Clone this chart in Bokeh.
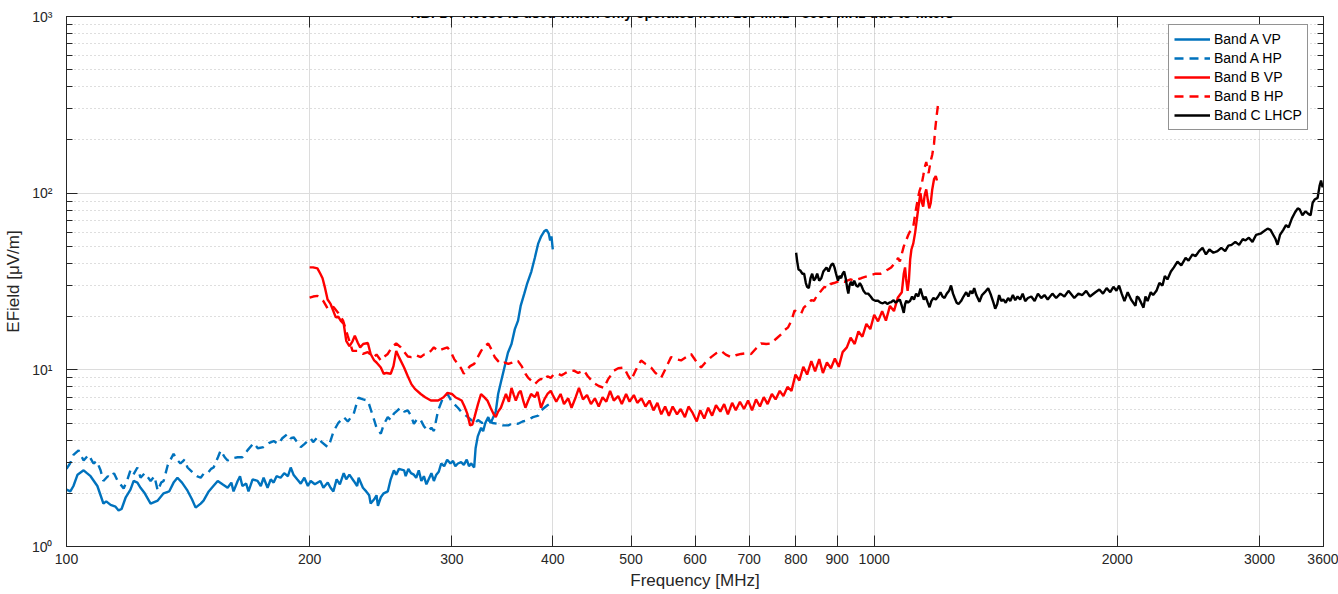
from bokeh.plotting import figure
from bokeh.models import (FixedTicker, LogAxis, BasicTickFormatter, Label, Range1d,
                          CustomJSTickFormatter)
from bokeh.embed import file_html
from bokeh.resources import INLINE

# ---------------- data ----------------
x_ticks = [100, 200, 300, 400, 500, 600, 700, 800, 900, 1000, 2000, 3000, 3600]
y_ticks = [1, 10, 100, 1000]
y_minor = [2, 3, 4, 5, 6, 7, 8, 9, 20, 30, 40, 50, 60, 70, 80, 90,
           200, 300, 400, 500, 600, 700, 800, 900]
y_labels = {1: "10⁰", 10: "10¹", 100: "10²", 1000: "10³"}

title_text = "NB: DF-A0086 is used which only operates from 100 MHz - 3600 MHz due to filters"

a_vp_f = [100, 101.1, 102, 103.2, 105, 106, 107.1, 109.2, 110.2, 111.1,
          112, 113.4, 115, 116, 117, 118.4, 120, 121.1, 122.4, 123.5,
          125, 127.1, 129.7, 131.9, 134, 135.7, 137.2, 139, 141.2, 143,
          144.5, 146.6, 147.8, 150, 152, 153.9, 156, 158.3, 160, 161,
          162.9, 164, 165.1, 166.9, 168, 170, 172.4, 174, 175.4, 177.4,
          179, 180.5, 182, 184.1, 186, 188, 189.5, 191, 193, 195,
          197, 199, 200.6, 203, 206.2, 208, 210.6, 212.3, 214, 216,
          218, 220.4, 222, 224, 226.8, 229, 230, 232.8, 235, 237,
          238, 240.4, 242, 243, 245, 247, 249.9, 252, 254.3, 256,
          258, 261.8, 263, 265, 267, 269.2, 271, 273, 275, 277,
          279, 280.2, 283, 285, 287, 289, 291, 293.5, 296, 298.8,
          301, 303, 305.2, 308, 310.4, 313, 315, 317, 319.7, 321,
          323, 326.1, 328, 330, 332.8, 335, 337, 340, 342.3, 345,
          348.5, 352, 355.6, 359, 362.3, 365, 368.8, 372, 376.3, 380,
          383.8, 387, 390.5, 393, 395.5, 397, 398.5, 400]
a_vp_v = [2.1, 2.05, 2.2, 2.55, 2.7, 2.6, 2.5, 2.2, 1.95, 1.75,
          1.8, 1.72, 1.68, 1.6, 1.63, 1.9, 2.1, 2.35, 2.3, 2.15,
          2.0, 1.75, 1.82, 2.0, 2.05, 2.3, 2.45, 2.3, 2.07, 1.85,
          1.66, 1.75, 1.82, 2.05, 2.2, 2.35, 2.25, 2.15, 2.3, 2.05,
          2.35, 2.5, 2.2, 2.27, 2.05, 2.4, 2.35, 2.2, 2.45, 2.15,
          2.4, 2.3, 2.5, 2.45, 2.6, 2.5, 2.8, 2.55, 2.4, 2.27,
          2.45, 2.2, 2.35, 2.25, 2.35, 2.15, 2.3, 2.15, 2.05, 2.4,
          2.25, 2.6, 2.4, 2.55, 2.35, 2.2, 2.45, 2.15, 2.05, 1.95,
          1.75, 1.85, 1.95, 1.7, 1.9, 2.0, 2.05, 2.4, 2.7, 2.55,
          2.75, 2.7, 2.5, 2.75, 2.6, 2.55, 2.45, 2.7, 2.35, 2.5,
          2.25, 2.35, 2.6, 2.35, 2.55, 2.65, 2.95, 2.85, 3.1, 2.95,
          3.05, 2.85, 2.95, 3.0, 2.9, 3.1, 2.85, 2.95, 2.8, 3.6,
          4.2, 4.7, 4.5, 5.0, 5.4, 5.0, 5.3, 5.8, 7.3, 8.5,
          10.3, 12.5, 14, 17, 19, 23, 27, 31, 36, 43,
          52, 57, 61, 62, 59, 54, 57, 48]

a_hp_f = [100, 101, 102, 103.5, 104.5, 105, 106.5, 108, 109, 110.2,
          111.1, 112.5, 113.4, 114.5, 115.7, 117.7, 119, 120, 121, 122.4,
          123.5, 125, 127.1, 128.5, 129.7, 131, 131.9, 133.5, 135.7, 137,
          138.4, 140, 141.2, 143.6, 145, 146.6, 148, 149.6, 151, 152.1,
          154, 155.2, 157, 158.3, 160, 162.9, 165.1, 167.5, 170.5, 172.5,
          175.4, 178, 180.5, 183, 185, 187.9, 189.5, 191.1, 193, 195,
          197, 200.6, 202, 204.5, 207, 210.6, 212, 214.2, 217, 220.4,
          223, 226.8, 229.8, 233, 236.1, 238, 240.4, 242, 245, 247,
          249.9, 252, 254.3, 257, 259.4, 262, 264.6, 267, 269.2, 272,
          274.5, 277, 280.2, 283, 285, 288.5, 292, 296.3, 300, 305.2,
          308, 310.4, 314, 317, 320, 323.2, 327, 332.8, 337, 342.3,
          347, 352.4, 357, 362.3, 367, 373, 378, 383.8, 387, 390.5,
          394, 397.4, 400]
a_hp_v = [2.75, 2.95, 3.3, 3.5, 3.2, 3.07, 3.3, 2.95, 3.05, 2.7,
          2.35, 2.5, 2.45, 2.6, 2.35, 2.13, 2.4, 2.7, 2.55, 2.8,
          2.45, 2.6, 2.35, 2.5, 2.07, 2.3, 2.35, 2.9, 3.35, 3.1,
          2.95, 3.1, 2.8, 2.6, 2.5, 2.45, 2.6, 2.6, 2.75, 2.8,
          3.2, 3.5, 3.2, 3.07, 3.15, 3.2, 3.2, 3.5, 3.85, 3.6,
          3.65, 3.85, 3.95, 3.8, 4.1, 4.35, 4.1, 4.15, 3.9, 3.65,
          3.8, 4.1, 3.9, 4.15, 3.9, 3.65, 3.9, 4.5, 5.0, 5.4,
          5.1, 5.65, 6.95, 6.8, 6.7, 6.0, 5.2, 4.7, 4.35, 4.9,
          5.4, 5.2, 5.65, 5.9, 6.1, 5.8, 5.9, 5.5, 4.95, 5.3,
          5.2, 4.8, 4.5, 4.7, 4.5, 5.9, 6.8, 7.3, 6.6, 6.1,
          5.8, 5.65, 5.4, 5.2, 4.95, 5.2, 5.0, 5.2, 5.0, 4.95,
          4.85, 4.85, 5.0, 4.95, 5.1, 5.2, 5.4, 5.5, 5.9, 6.1,
          6.3, 6.45, 6.6]

b_vp_f = [200, 202, 204.5, 206.2, 207.5, 209, 210.5, 212.3, 214, 215.5,
          217, 218.5, 220.4, 222, 224, 226, 227.5, 229.5, 231, 233,
          236.1, 238, 240.4, 242, 245, 247, 249, 252, 254, 256,
          258, 261.8, 264.6, 267.3, 270, 274.5, 278, 282.6, 288.5, 293,
          296.3, 300, 303, 308.5, 311, 313.5, 316, 318, 320, 323.2,
          326, 329, 332, 335, 338, 340, 342.3, 345, 348, 350,
          353, 355.6, 358, 360, 363, 365, 368, 370, 373, 376,
          380, 383, 386.8, 390.5, 394, 397.7,
          400, 404, 409, 413, 418, 422, 427, 431, 436, 441,
          446, 451, 456, 461, 466, 471, 476, 482, 487, 493,
          498, 504, 509, 515, 521, 527, 533, 539, 545, 551,
          557, 563, 570, 576, 583, 589, 596, 603, 609, 616,
          623, 630, 637, 645, 652, 659, 667, 674, 682, 690,
          698, 706, 714, 722, 730, 738, 747, 755, 764, 772,
          781, 790, 799, 808, 817, 826, 836, 845, 855, 864,
          874, 884, 894, 904, 914, 925, 935, 946, 956, 967,
          978, 989, 1000, 1011, 1023, 1034, 1046, 1058, 1070, 1082,
          1088, 1092, 1095, 1100, 1104, 1108, 1112, 1118, 1124, 1131,
          1137, 1141, 1146, 1150, 1155, 1160, 1165, 1170, 1175, 1180,
          1186, 1192, 1196]
b_vp_v = [38, 38, 37.5, 35, 33, 29, 25, 23.6, 21.5, 19.8,
          20, 19, 18.2, 14.6, 13.6, 14.5, 15.6, 14.2, 13.4, 14.0,
          14.2, 12.3, 11.3, 11.0, 10.3, 9.5, 9.6, 9.5, 10.5, 12.8,
          11.8, 10.3, 9.2, 8.3, 7.8, 7.3, 7.0, 6.7, 6.7, 7.0,
          7.4, 7.3, 7.0, 6.7, 6.2, 5.65, 4.85, 4.9, 5.4, 6.4,
          7.3, 7.0, 6.7, 6.1, 5.6, 5.4, 5.8, 6.1, 6.8, 7.3,
          6.6, 7.9, 7.2, 6.7, 7.4, 7.6, 6.6, 6.1, 6.7, 7.3,
          7.0, 7.5, 6.1, 6.8, 7.3, 7.6,
          7.2, 6.6, 7.3, 6.4, 6.9, 6.1, 7.0, 7.9, 6.8, 7.2,
          6.4, 6.9, 6.2, 7.0, 6.6, 7.6, 6.7, 7.1, 6.4, 7.3,
          6.6, 7.2, 6.5, 6.9, 6.2, 6.7, 5.9, 6.5, 5.6, 6.2,
          5.5, 6.2, 5.6, 6.0, 5.4, 6.2, 5.7, 5.1, 5.9, 5.3,
          6.1, 5.5, 6.3, 5.8, 6.4, 5.6, 6.5, 5.9, 6.6, 6.0,
          6.7, 5.9, 6.8, 6.2, 7.0, 6.4, 7.3, 6.8, 7.6, 7.1,
          8.0, 7.6, 9.4, 8.7, 10.4, 9.4, 11.2, 9.8, 11.5, 9.6,
          11.0, 10.2, 11.6, 10.4, 12.6, 13.4, 15.2, 14.0, 16.5, 15.4,
          18.2, 17.0, 20.5, 18.8, 21.5, 19.0, 23.0, 21.5, 25.7, 27.5,
          35.0, 38.0, 33.0, 28.0, 32.0, 42.0, 48.0, 52.0, 60.0, 75.0,
          90.0, 100.0, 88.0, 84.0, 98.0, 105.0, 92.0, 82.0, 88.0, 105.0,
          120.0, 125.0, 118.0]

b_hp_f = [200, 202, 204.5, 206.2, 208, 210.6, 212.3, 214.2, 217, 220,
          223, 226, 229, 232.8, 236, 240, 242, 245, 247.5, 249.9,
          253, 256, 259.4, 262, 264.6, 267.3, 271, 274.5, 277, 280.2,
          283, 285, 288.5, 292, 296.3, 300, 302, 305.2, 308, 310.4,
          313, 316, 319.7, 323, 326.1, 329, 332.8, 336, 339, 342.3,
          345, 349, 352.4, 356, 359, 362.3, 366, 370, 373, 377,
          380, 384, 387, 390.5, 394, 397.7, 401, 405.9, 410, 413.3,
          418, 424.9, 430, 437.2, 442, 450, 456, 463, 468, 476.3,
          482, 490.2, 495, 500, 507, 514.5, 521, 529.4, 536, 544.7,
          552, 560.4, 568, 576.6, 585, 593.3, 601, 610.5, 618, 628.2,
          637, 646.3, 655, 665, 674, 684.2, 694, 704, 714, 724.4,
          735, 745.4, 755, 767, 775, 782.5, 790, 797, 805, 812,
          818, 828.4, 836, 842.6, 850, 859.6, 868, 876, 883, 891.6,
          900, 908.5, 918, 926, 935, 944.6, 953, 963.6, 972, 983,
          993, 1004, 1018.5, 1030, 1040, 1049.7, 1060, 1070.8, 1076, 1080,
          1088, 1095.5, 1102, 1110, 1118, 1126, 1133.5, 1138, 1144, 1150,
          1155, 1160, 1165, 1168, 1174, 1180, 1186, 1190, 1195, 1200]
b_hp_v = [25.6, 26, 26.2, 25.3, 24.5, 22.2, 22.8, 22.6, 21, 19,
          15.5, 12.8, 12.8, 12.3, 12.6, 11.8, 12.2, 11.3, 11.9, 12.3,
          13.5, 14.1, 13.4, 12.6, 11.9, 11.8, 12.1, 11.8, 12.2, 12.3,
          12.9, 13.4, 12.8, 13.1, 13.4, 12.3, 11.5, 10.8, 10.2, 9.5,
          10.0, 10.5, 10.8, 11.8, 12.8, 13.6, 14.1, 13.0, 11.8, 11.2,
          10.8, 11.0, 10.8, 11.0, 11.3, 11.2, 10.5, 9.5, 9.0, 8.6,
          8.3, 8.7, 8.9, 8.7, 9.2, 9.0, 9.4, 9.5, 9.3, 9.5,
          9.8, 9.9, 9.6, 9.9, 9.2, 8.4, 8.1, 7.9, 8.8, 9.9,
          10.2, 10.3, 9.4, 8.7, 10.0, 11.3, 10.8, 10.3, 9.6, 9.0,
          10.2, 11.8, 11.5, 11.3, 11.8, 12.3, 11.3, 10.3, 11.0, 11.8,
          12.4, 12.8, 12.2, 11.8, 12.1, 12.3, 12.4, 12.3, 13.2, 14.1,
          14.0, 14.1, 14.9, 15.9, 16.8, 17.4, 19, 21.7, 21.0, 20.8,
          22.5, 23.6, 24.8, 24.6, 26.5, 28, 29.5, 29, 30.6, 31,
          31.5, 32, 31.5, 32, 32.5, 32, 32.5, 33, 33.5, 34,
          34.5, 35, 35, 36, 37, 38, 40, 43, 41, 44,
          50, 54, 58, 62, 65, 80, 95, 103, 110, 125,
          140, 150, 135, 130, 150, 165, 190, 230, 275, 320]

c_lhcp_f = [800.5, 803, 806, 810, 815, 819, 823, 826, 830, 834,
            838, 842, 846, 850, 855, 860, 865, 869, 873, 878,
            884, 889, 893, 897, 902, 906, 910, 914, 918, 922,
            926, 929, 932, 936, 940, 944.6, 950, 955, 960, 964,
            970, 976, 983, 990, 996, 1003, 1011, 1018, 1025, 1032,
            1038, 1044, 1050, 1057, 1063, 1070, 1076, 1082, 1088, 1092,
            1096, 1101, 1108, 1114, 1120, 1127, 1134, 1141, 1147, 1152,
            1158, 1165, 1171, 1177, 1184, 1192, 1200, 1208, 1215, 1222,
            1230, 1238, 1245, 1252, 1258, 1265, 1272, 1281, 1290, 1300,
            1308, 1316, 1323, 1330, 1338, 1350, 1360, 1371, 1384, 1395,
            1405, 1412, 1420, 1428, 1437, 1445, 1455, 1465, 1474, 1485,
            1495, 1505, 1516, 1527, 1538, 1550, 1565, 1580, 1595, 1610,
            1625, 1640, 1662, 1680, 1700, 1720, 1740, 1769, 1790, 1810,
            1830, 1850, 1879, 1900, 1920, 1940, 1960, 1978, 1995, 2010,
            2025, 2041, 2060, 2080, 2106, 2115, 2124, 2140, 2155, 2167,
            2180, 2200, 2215, 2236, 2255, 2275, 2290, 2307, 2330, 2350,
            2374, 2400, 2430, 2450, 2478, 2500, 2525, 2550, 2575, 2600,
            2630, 2661, 2690, 2720, 2745, 2770, 2800, 2830, 2860, 2882,
            2910, 2940, 2970, 3008, 3040, 3070, 3095, 3120, 3140, 3158,
            3180, 3210, 3235, 3259, 3290, 3320, 3345, 3363, 3390, 3420,
            3450, 3470, 3490, 3510, 3540, 3560, 3575, 3590, 3600]
c_lhcp_v = [46, 41, 37, 36.5, 35, 35, 31, 29.5, 29, 33,
            35, 32, 33, 35, 32, 33, 36, 37, 38, 36,
            39, 40, 38, 35, 32, 34, 33, 35, 36, 33,
            29, 27, 30, 31.5, 30, 32, 30, 29.5, 31, 30,
            28, 27, 27, 26, 25, 24.6, 24.6, 24, 23.8, 24.2,
            23.6, 24.0, 24.2, 24.8, 24.0, 24.6, 25.0, 23.0, 21.0, 23.5,
            24.6, 24.0, 24.6, 26.0, 25.0, 27.0, 26.0, 28.8, 26.5, 25.0,
            26.0, 24.0, 22.6, 24.5, 25.5, 25.0, 26.0, 27.5, 26.0, 25.5,
            27.0, 28.0, 30.0, 27.0, 25.5, 24.0, 23.6, 24.5, 26.0, 27.5,
            26.0, 28.0, 27.0, 29.0, 26.5, 24.3, 26.5, 27.5, 29.0, 26.5,
            24.0, 22.2, 23.5, 26.5, 24.5, 25.0, 24.0, 25.5, 24.5, 26.5,
            24.8, 26.0, 25.0, 27.0, 24.5, 25.5, 26.0, 24.5, 27.0, 25.5,
            26.5, 25.0, 27.0, 25.5, 27.0, 26.0, 28.0, 25.5, 27.0, 26.5,
            28.0, 26.0, 27.5, 28.5, 27.0, 29.0, 27.5, 29.5, 28.0, 30.0,
            27.0, 24.5, 27.5, 25.0, 23.0, 26.0, 25.7, 24.0, 22.5, 26.0,
            24.5, 27.5, 26.5, 28.0, 31.0, 30.0, 34.0, 32.5, 36.0, 38.0,
            41.0, 39.0, 43.0, 41.5, 45.0, 44.0, 47.0, 49.0, 45.0, 48.0,
            46.0, 47.0, 49.0, 47.0, 50.5, 51.0, 53.0, 51.0, 55.0, 54.0,
            56.0, 53.0, 58.0, 59.0, 61.0, 63.0, 62.0, 58.0, 55.0, 51.0,
            58.0, 62.0, 66.0, 64.0, 72.0, 78.0, 82.0, 81.0, 75.0, 79.0,
            76.0, 75.0, 88.0, 92.0, 94.0, 110.0, 118.0, 108.0, 113.0]

series = [
    ("Band A VP", a_vp_f, a_vp_v, "#0072BD", "solid"),
    ("Band A HP", a_hp_f, a_hp_v, "#0072BD", "9 6"),
    ("Band B VP", b_vp_f, b_vp_v, "#FF0000", "solid"),
    ("Band B HP", b_hp_f, b_hp_v, "#FF0000", "9 6"),
    ("Band C LHCP", c_lhcp_f, c_lhcp_v, "#000000", "solid"),
]

# ---------------- figure ----------------
FONT = "Liberation Sans"
AX = "#262626"

p = figure(width=1338, height=594, x_axis_type="log", y_axis_type="log",
           x_range=Range1d(100, 3600), y_range=Range1d(1, 1000),
           output_backend="svg", toolbar_location=None,
           min_border_left=66, min_border_right=15, min_border_top=16,
           min_border_bottom=48)
p.outline_line_color = AX
p.outline_line_width = 1
p.background_fill_color = "white"
p.border_fill_color = "white"

xt = FixedTicker(ticks=x_ticks, minor_ticks=[])
yt = FixedTicker(ticks=y_ticks, minor_ticks=y_minor)

for ax in p.xaxis:
    ax.ticker = xt
    ax.formatter = BasicTickFormatter(use_scientific=False)
    ax.axis_label = "Frequency [MHz]"
for ax in p.yaxis:
    ax.ticker = yt
    ax.formatter = BasicTickFormatter(use_scientific=False)
    ax.major_label_overrides = y_labels
    ax.axis_label = "EField [μV/m]"

for ax in list(p.xaxis) + list(p.yaxis):
    ax.axis_line_color = AX
    ax.major_tick_line_color = AX
    ax.minor_tick_line_color = AX
    ax.major_tick_out = 0
    ax.major_tick_in = 11
    ax.minor_tick_out = 0
    ax.minor_tick_in = 6
    ax.major_label_text_font = FONT
    ax.major_label_text_font_size = "14px"
    ax.major_label_text_color = AX
    ax.axis_label_text_font = FONT
    ax.axis_label_text_font_size = "17px"
    ax.axis_label_text_font_style = "normal"
    ax.axis_label_text_color = AX

p.xaxis.major_label_standoff = 7
p.xaxis.axis_label_standoff = 4
p.yaxis.major_label_standoff = 14
p.yaxis.axis_label_standoff = 6

blank = CustomJSTickFormatter(code="return ''")
top_ax = LogAxis(ticker=xt, formatter=blank, axis_line_color=AX,
                 major_tick_line_color=AX, major_tick_in=11, major_tick_out=0,
                 minor_tick_out=0, minor_tick_in=0, major_label_standoff=0,
                 major_label_text_font_size="1px")
right_ax = LogAxis(ticker=yt, formatter=blank, axis_line_color=AX,
                   major_tick_line_color=AX, minor_tick_line_color=AX,
                   major_tick_in=11, major_tick_out=0, minor_tick_in=6,
                   minor_tick_out=0, major_label_standoff=0,
                   major_label_text_font_size="1px")
p.add_layout(top_ax, "above")
p.add_layout(right_ax, "right")

p.xgrid.ticker = xt
p.xgrid.grid_line_color = "#dcdcdc"
p.xgrid.grid_line_width = 1
p.ygrid.ticker = yt
p.ygrid.grid_line_color = "#dcdcdc"
p.ygrid.minor_grid_line_color = "#bdbdbd"
p.ygrid.minor_grid_line_dash = "1 3"
p.ygrid.minor_grid_line_width = 1

for name, fx, fy, col, dash in series:
    p.line(fx, fy, line_color=col, line_width=2.4, line_dash=dash,
           legend_label=name)

lg = p.legend[0]
lg.location = (1102, 416)
lg.label_text_font = FONT
lg.label_text_font_size = "14px"
lg.label_text_color = "#000000"
lg.glyph_width = 36
lg.glyph_height = 18
lg.label_height = 18
lg.label_standoff = 4
lg.spacing = 1
lg.padding = 5
lg.margin = 0
lg.border_line_color = AX
lg.border_line_width = 1
lg.background_fill_alpha = 1.0
lg.background_fill_color = "white"

p.add_layout(Label(x=578, y=1052, text=title_text, text_align="center",
                   text_baseline="alphabetic", text_font=FONT,
                   text_font_size="14px", text_font_style="bold",
                   text_color="#000000"))

open("out.html", "w").write(file_html(p, INLINE))
